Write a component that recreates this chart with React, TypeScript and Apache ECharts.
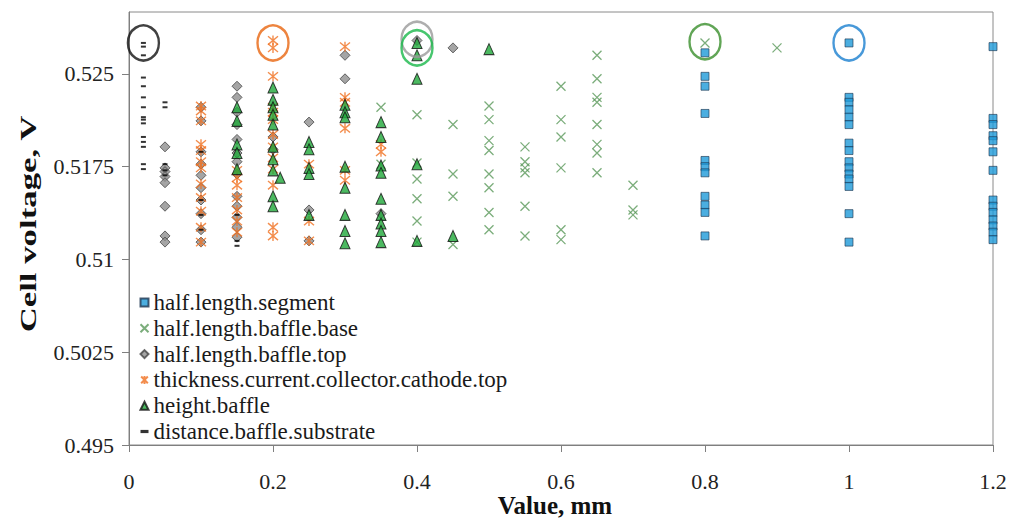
import React, { useEffect, useRef } from "react";
import * as echarts from "echarts";

// ---- axis ticks ----
const xTicks = [0, 0.2, 0.4, 0.6, 0.8, 1, 1.2];
const yTicks = [0.495, 0.5025, 0.51, 0.5175, 0.525];

// ---- series names ----
const seriesNames = [
  "half.length.segment",
  "half.length.baffle.base",
  "half.length.baffle.top",
  "thickness.current.collector.cathode.top",
  "height.baffle",
  "distance.baffle.substrate",
];

// ---- data: [value mm, cell voltage V] ----
const halfLengthSegment = [
  [0.8, 0.5267], [0.8, 0.5248], [0.8, 0.524], [0.8, 0.5218], [0.8, 0.518], [0.8, 0.5175],
  [0.8, 0.517], [0.8, 0.5151], [0.8, 0.5144], [0.8, 0.5138], [0.8, 0.5119],
  [1, 0.5275], [1, 0.5231], [1, 0.5227], [1, 0.5221], [1, 0.5215], [1, 0.5209], [1, 0.5194],
  [1, 0.5188], [1, 0.5179], [1, 0.5174], [1, 0.5169], [1, 0.5165], [1, 0.5159], [1, 0.5137], [1, 0.5114],
  [1.2, 0.5272], [1.2, 0.5214], [1.2, 0.5209], [1.2, 0.52], [1.2, 0.5196], [1.2, 0.5187], [1.2, 0.5172],
  [1.2, 0.5148], [1.2, 0.5143], [1.2, 0.5138], [1.2, 0.5132], [1.2, 0.5127], [1.2, 0.5122], [1.2, 0.5116],
];

const halfLengthBaffleBase = [
  [0.35, 0.5223], [0.35, 0.5177],
  [0.4, 0.5217], [0.4, 0.5178], [0.4, 0.5165], [0.4, 0.5149], [0.4, 0.5131], [0.4, 0.5114],
  [0.45, 0.5209], [0.45, 0.5169], [0.45, 0.5151], [0.45, 0.5112],
  [0.5, 0.5224], [0.5, 0.5213], [0.5, 0.5196], [0.5, 0.5188], [0.5, 0.5169], [0.5, 0.5158], [0.5, 0.5138], [0.5, 0.5124],
  [0.55, 0.5191], [0.55, 0.5179], [0.55, 0.5174], [0.55, 0.517], [0.55, 0.5143], [0.55, 0.5119],
  [0.6, 0.524], [0.6, 0.5213], [0.6, 0.5199], [0.6, 0.5174], [0.6, 0.5124], [0.6, 0.5116],
  [0.65, 0.5265], [0.65, 0.5246], [0.65, 0.5231], [0.65, 0.5227], [0.65, 0.5209], [0.65, 0.5193], [0.65, 0.5186], [0.65, 0.517],
  [0.7, 0.516], [0.7, 0.514], [0.7, 0.5136],
  [0.8, 0.5275], [0.9, 0.5271],
];

const halfLengthBaffleTop = [
  [0.05, 0.5191], [0.05, 0.5174], [0.05, 0.5171], [0.05, 0.5167], [0.05, 0.5162], [0.05, 0.5143], [0.05, 0.5119], [0.05, 0.5114],
  [0.1, 0.5223], [0.1, 0.5212], [0.1, 0.5187], [0.1, 0.5177], [0.1, 0.5168], [0.1, 0.5158], [0.1, 0.5148], [0.1, 0.5137], [0.1, 0.5124], [0.1, 0.5114],
  [0.15, 0.524], [0.15, 0.5231], [0.15, 0.5219], [0.15, 0.5209], [0.15, 0.5197], [0.15, 0.5186], [0.15, 0.5179], [0.15, 0.5169],
  [0.15, 0.5151], [0.15, 0.5143], [0.15, 0.5134], [0.15, 0.5126], [0.15, 0.5118],
  [0.2, 0.5199], [0.2, 0.5189],
  [0.25, 0.5211], [0.25, 0.514], [0.25, 0.5115],
  [0.3, 0.5265], [0.3, 0.5246],
  [0.35, 0.5137],
  [0.4, 0.5277],
  [0.45, 0.5271],
];

const thicknessCathodeTop = [
  [0.1, 0.5224], [0.1, 0.522], [0.1, 0.5212], [0.1, 0.5193], [0.1, 0.5188], [0.1, 0.5179], [0.1, 0.5174], [0.1, 0.5161],
  [0.1, 0.515], [0.1, 0.5139], [0.1, 0.5126], [0.1, 0.5114],
  [0.15, 0.5172], [0.15, 0.5166], [0.15, 0.516], [0.15, 0.515], [0.15, 0.514], [0.15, 0.5131], [0.15, 0.5122],
  [0.2, 0.5277], [0.2, 0.5271], [0.2, 0.5248], [0.2, 0.5223], [0.2, 0.5219], [0.2, 0.5213], [0.2, 0.5201], [0.2, 0.5191],
  [0.2, 0.5182], [0.2, 0.5173], [0.2, 0.516], [0.2, 0.5126], [0.2, 0.5119],
  [0.25, 0.5177], [0.25, 0.5131], [0.25, 0.5115],
  [0.3, 0.5272], [0.3, 0.5231], [0.3, 0.5227], [0.3, 0.5206], [0.3, 0.5172], [0.3, 0.5164],
  [0.35, 0.5193], [0.35, 0.5187],
];

const heightBaffle = [
  [0.15, 0.5223], [0.15, 0.5212], [0.15, 0.5193], [0.15, 0.5186], [0.15, 0.5173],
  [0.2, 0.5239], [0.2, 0.5229], [0.2, 0.5223], [0.2, 0.5217], [0.2, 0.5209], [0.2, 0.5191], [0.2, 0.5181], [0.2, 0.5172],
  [0.2, 0.5151], [0.2, 0.5143],
  [0.21, 0.5166],
  [0.25, 0.5195], [0.25, 0.5189], [0.25, 0.5174], [0.25, 0.5169], [0.25, 0.5136],
  [0.3, 0.5225], [0.3, 0.5219], [0.3, 0.5215], [0.3, 0.5175], [0.3, 0.5158], [0.3, 0.5136], [0.3, 0.5123], [0.3, 0.5113],
  [0.35, 0.5211], [0.35, 0.5199], [0.35, 0.5176], [0.35, 0.517], [0.35, 0.5149], [0.35, 0.5136], [0.35, 0.5129], [0.35, 0.5123], [0.35, 0.5114],
  [0.4, 0.5275], [0.4, 0.5265], [0.4, 0.5246], [0.4, 0.5177], [0.4, 0.5115],
  [0.45, 0.5119],
  [0.5, 0.527],
];

const distanceBaffleSubstrate = [
  [0.02, 0.5275], [0.02, 0.5272], [0.02, 0.5265], [0.02, 0.5247], [0.02, 0.524], [0.02, 0.5231], [0.02, 0.5223],
  [0.02, 0.5215], [0.02, 0.5213], [0.02, 0.521], [0.02, 0.5199], [0.02, 0.5195], [0.02, 0.5191], [0.02, 0.5177], [0.02, 0.5173],
  [0.05, 0.5227], [0.05, 0.5223], [0.05, 0.5177], [0.05, 0.5172], [0.05, 0.5168],
  [0.1, 0.5187], [0.1, 0.5148], [0.1, 0.5136], [0.1, 0.5124],
  [0.15, 0.5136], [0.15, 0.5115], [0.15, 0.5111],
];

// ---- circled maxima ----
const highlightX = [0.02, 0.2, 0.4, 0.4, 0.8, 1];
const highlightY = [0.5275, 0.5275, 0.5278, 0.5271, 0.5276, 0.5275];

const FONT = "Liberation Serif";
const fmt = (v: number) => String(parseFloat(v.toFixed(4)));

const X_PATH = "path://M0,0L10,10M10,0L0,10";
const STAR_PATH = "path://M0,0L10,10M10,0L0,10M5,-1L5,11";
const DASH_PATH = "path://M0,0h5v2h-5z";

const highlightColors = ["#111111", "#e8650f", "#9a9a9a", "#19b84a", "#3a8f2c", "#1a80cf"];

export default function App() {
  const ref = useRef<HTMLDivElement>(null);
  useEffect(() => {
    const chart = echarts.init(ref.current!, null, { renderer: "svg" });
    const seriesData = [
      halfLengthSegment,
      halfLengthBaffleBase,
      halfLengthBaffleTop,
      thicknessCathodeTop,
      heightBaffle,
      distanceBaffleSubstrate,
    ];
    const styles: any[] = [
      { symbol: "rect", symbolSize: 8, itemStyle: { color: "#1e9ad8", borderColor: "#1d3550", borderWidth: 0.8 } },
      { symbol: X_PATH, symbolSize: 9, itemStyle: { color: "none", borderColor: "#5a985a", borderWidth: 1.3 } },
      { symbol: "diamond", symbolSize: 10, itemStyle: { color: "#8f8f8f", borderColor: "#454545", borderWidth: 1 } },
      { symbol: STAR_PATH, symbolSize: 10, itemStyle: { color: "none", borderColor: "#f07020", borderWidth: 1.4 } },
      { symbol: "triangle", symbolSize: [10, 11], itemStyle: { color: "#1fa83a", borderColor: "#111111", borderWidth: 1 } },
      { symbol: DASH_PATH, symbolSize: [5, 2], itemStyle: { color: "#000000" } },
    ];
    const series: any[] = seriesNames.map((name, i) => ({
      name,
      type: "scatter",
      data: seriesData[i],
      symbolKeepAspect: false,
      ...styles[i],
    }));
    highlightX.forEach((x, i) => {
      series.push({
        name: "highlight" + i,
        type: "scatter",
        data: [[x, highlightY[i]]],
        symbol: "circle",
        symbolSize: [31, 35],
        silent: true,
        z: 5,
        itemStyle: { color: "none", borderColor: highlightColors[i], borderWidth: 2.5 },
      });
    });

    chart.setOption({
      animation: false,
      backgroundColor: "#ffffff",
      textStyle: { fontFamily: FONT },
      grid: {
        left: 129,
        right: 28,
        top: 12,
        bottom: 76,
        containLabel: false,
        outerBoundsMode: "none",
        show: true,
        borderColor: "#8a8a8a",
        borderWidth: 1,
      },
      legend: {
        data: seriesNames,
        orient: "vertical",
        left: 138,
        top: 291,
        padding: 0,
        itemWidth: 8,
        itemHeight: 8,
        itemGap: 2.8,
        textStyle: { fontFamily: FONT, fontSize: 23, lineHeight: 23, color: "#1a1a1a" },
      },
      xAxis: {
        type: "value",
        min: 0,
        max: 1.2,
        interval: 0.2,
        name: "Value, mm",
        nameLocation: "middle",
        nameGap: 48,
        nameMoveOverlap: false,
        nameTextStyle: {
          fontFamily: FONT,
          fontWeight: "bold",
          fontSize: 25,
          lineHeight: 25,
          color: "#111",
          padding: [0, 12, 0, 0],
        },
        axisLine: { show: true, lineStyle: { color: "#7f7f7f", width: 1 } },
        axisTick: { show: true, inside: false, length: 7, lineStyle: { color: "#7f7f7f" } },
        axisLabel: {
          margin: 25,
          fontFamily: FONT,
          fontSize: 22,
          color: "#222",
          customValues: xTicks,
          formatter: (v: number) => fmt(v),
        },
        splitLine: { show: false },
      },
      yAxis: {
        type: "value",
        min: 0.495,
        max: 0.53,
        axisLine: { show: true, lineStyle: { color: "#7f7f7f", width: 1 } },
        axisTick: { show: true, inside: false, length: 7, customValues: yTicks, lineStyle: { color: "#7f7f7f" } },
        axisLabel: {
          margin: 15,
          fontFamily: FONT,
          fontSize: 22,
          color: "#222",
          customValues: yTicks,
          formatter: (v: number) => fmt(v),
        },
        splitLine: { show: false },
      },
      graphic: [
        {
          type: "text",
          x: 28,
          y: 224,
          rotation: Math.PI / 2,
          scaleX: 1.45,
          style: {
            text: "Cell voltage, V",
            font: "bold 24px Liberation Serif",
            fill: "#111",
            align: "center",
            verticalAlign: "middle",
            textAlign: "center",
            textVerticalAlign: "middle",
          },
        },
      ],
      series,
    });
    return () => chart.dispose();
  }, []);
  return <div ref={ref} style={{ position: "fixed", left: 0, top: 0, width: 1021, height: 521 }} />;
}
